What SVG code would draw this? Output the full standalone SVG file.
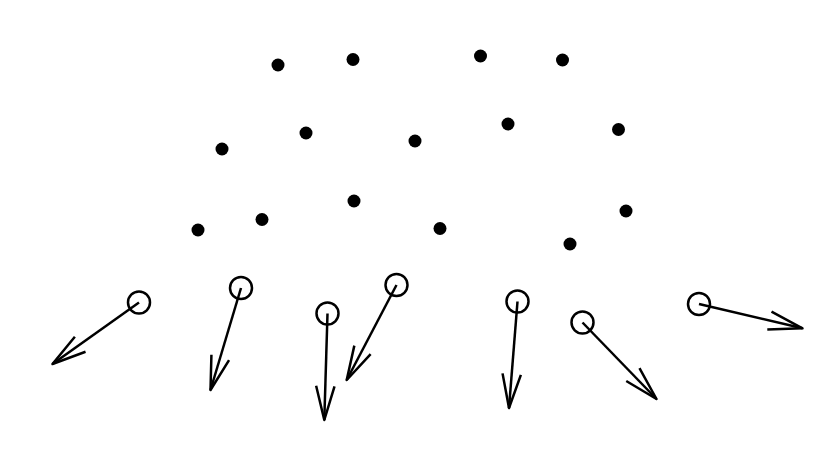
<svg xmlns="http://www.w3.org/2000/svg" width="830" height="464" viewBox="0 0 830 464">
<style>
.dot{fill:#000}
.ring{fill:none;stroke:#000;stroke-width:2.5}
.vec{stroke:#000;stroke-width:2.5;fill:none}
</style>
<defs>
<marker id="ah" markerUnits="userSpaceOnUse" orient="auto" refX="0" refY="0" markerWidth="40" markerHeight="24" viewBox="-36 -12 40 24" overflow="visible">
<path d="M-34,-9.2 L0,0 L-34,9.2" fill="none" stroke="#000" stroke-width="2.5" stroke-linejoin="round"/>
</marker>
</defs>
<rect width="830" height="464" fill="#fff"/>
<g id="points">
<circle id="p1" class="dot" cx="278" cy="65" r="6.5"/>
<circle id="p2" class="dot" cx="353" cy="59.5" r="6.5"/>
<circle id="p3" class="dot" cx="480.5" cy="56" r="6.5"/>
<circle id="p4" class="dot" cx="562.5" cy="60" r="6.5"/>
<circle id="p5" class="dot" cx="222" cy="149" r="6.5"/>
<circle id="p6" class="dot" cx="306" cy="133" r="6.5"/>
<circle id="p7" class="dot" cx="415" cy="141" r="6.5"/>
<circle id="p8" class="dot" cx="508" cy="124" r="6.5"/>
<circle id="p9" class="dot" cx="618.5" cy="129.5" r="6.5"/>
<circle id="p10" class="dot" cx="198" cy="230" r="6.5"/>
<circle id="p11" class="dot" cx="262" cy="219.5" r="6.5"/>
<circle id="p12" class="dot" cx="354" cy="201" r="6.5"/>
<circle id="p13" class="dot" cx="440" cy="228.5" r="6.5"/>
<circle id="p14" class="dot" cx="570" cy="244" r="6.5"/>
<circle id="p15" class="dot" cx="626" cy="211" r="6.5"/>
</g>
<g id="sources">
<circle id="s1" class="ring" cx="139" cy="302.5" r="11"/>
<circle id="s2" class="ring" cx="241" cy="288" r="11"/>
<circle id="s3" class="ring" cx="327.5" cy="313.5" r="11"/>
<circle id="s4" class="ring" cx="396.5" cy="285" r="11"/>
<circle id="s5" class="ring" cx="517.5" cy="301.5" r="11"/>
<circle id="s6" class="ring" cx="582.5" cy="322.5" r="11"/>
<circle id="s7" class="ring" cx="699" cy="304" r="11"/>
</g>
<g id="connectors">
<line class="vec" x1="139" y1="302.5" x2="52.5" y2="364" marker-end="url(#ah)"/>
<line class="vec" x1="241" y1="288" x2="210.5" y2="390" marker-end="url(#ah)"/>
<line class="vec" x1="327.5" y1="313.5" x2="324.3" y2="420" marker-end="url(#ah)"/>
<line class="vec" x1="396.5" y1="285" x2="346.7" y2="380" marker-end="url(#ah)"/>
<line class="vec" x1="517.5" y1="301.5" x2="509" y2="408" marker-end="url(#ah)"/>
<line class="vec" x1="582.5" y1="322.5" x2="656.5" y2="399" marker-end="url(#ah)"/>
<line class="vec" x1="699" y1="304" x2="802.5" y2="328.3" marker-end="url(#ah)"/>
</g>
</svg>
